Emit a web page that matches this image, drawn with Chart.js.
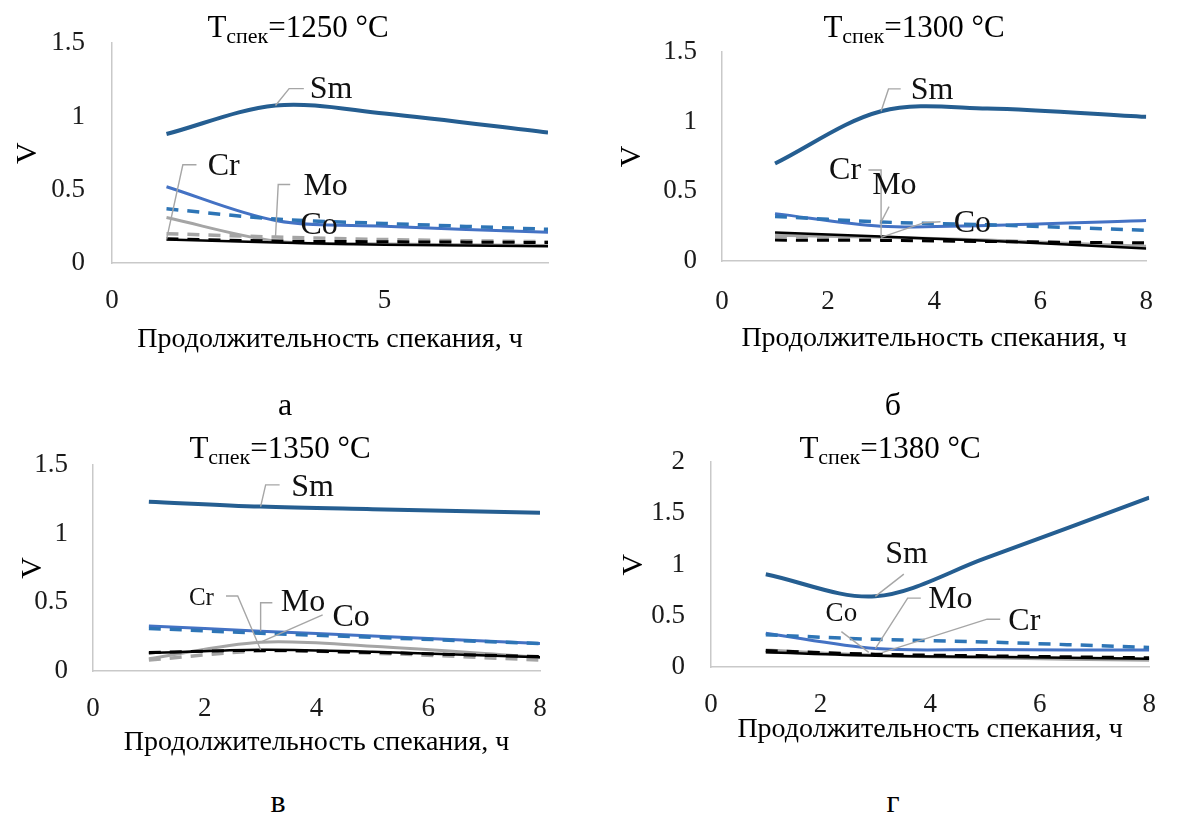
<!DOCTYPE html>
<html>
<head>
<meta charset="utf-8">
<script src="https://cdn.jsdelivr.net/npm/chart.js@4.4.1/dist/chart.umd.min.js"></script>
<style>
  body { margin: 0; width: 1178px; height: 816px; background: #fff; position: relative; overflow: hidden;
         font-family: "Liberation Serif", "Times New Roman", serif; color: #000; }
  canvas { position: absolute; }
  .ttl { position: absolute; font-size: 31px; line-height: 1; white-space: nowrap; transform: translateX(-50%); }
  .ttl .sub { font-size: 22px; vertical-align: -6px; }
  .letter { position: absolute; font-size: 32px; line-height: 1; transform: translateX(-50%); }
</style>
</head>
<body>
<canvas id="chart1250" width="590" height="360" style="left:0;top:0"></canvas>
<canvas id="chart1300" width="588" height="360" style="left:590px;top:0"></canvas>
<canvas id="chart1350" width="590" height="340" style="left:0;top:420px"></canvas>
<canvas id="chart1380" width="588" height="340" style="left:590px;top:420px"></canvas>

<div class="ttl" style="left:298px;top:11px">T<span class="sub">спек</span>=1250 °C</div>
<div class="ttl" style="left:914px;top:11px">T<span class="sub">спек</span>=1300 °C</div>
<div class="ttl" style="left:280px;top:432px">T<span class="sub">спек</span>=1350 °C</div>
<div class="ttl" style="left:890px;top:432px">T<span class="sub">спек</span>=1380 °C</div>

<div class="letter" style="left:285px;top:388px">а</div>
<div class="letter" style="left:893px;top:388px">б</div>
<div class="letter" style="left:278px;top:785px">в</div>
<div class="letter" style="left:893px;top:785px">г</div>

<script>
// sintering time, h
const hours = [1, 3, 5, 8];
const xTitle = "Продолжительность спекания, ч";
const yTitle = "V";

// T = 1250 °C
const sm1250 = [0.88, 1.075, 1.02, 0.89];
const blue1250 = [0.52, 0.29, 0.25, 0.21];
const blueDash1250 = [0.37, 0.30, 0.27, 0.23];
const grey1250 = [0.31, 0.15, 0.13, 0.12];
const greyDash1250 = [0.20, 0.177, 0.16, 0.145];
const black1250 = [0.16, 0.14, 0.125, 0.115];
const blackDash1250 = [0.165, 0.15, 0.145, 0.14];

// T = 1300 °C
const sm1300 = [0.70, 1.075, 1.095, 1.035];
const blue1300 = [0.34, 0.25, 0.255, 0.29];
const blueDash1300 = [0.32, 0.28, 0.26, 0.22];
const grey1300 = [0.185, 0.17, 0.15, 0.105];
const greyDash1300 = [0.175, 0.165, 0.145, 0.115];
const black1300 = [0.205, 0.175, 0.145, 0.09];
const blackDash1300 = [0.15, 0.148, 0.14, 0.13];

// T = 1350 °C
const sm1350 = [1.233, 1.197, 1.178, 1.153];
const blue1350 = [0.328, 0.29, 0.255, 0.20];
const blueDash1350 = [0.31, 0.275, 0.245, 0.20];
const grey1350 = [0.09, 0.21, 0.18, 0.10];
const greyDash1350 = [0.08, 0.145, 0.13, 0.08];
const black1350 = [0.13, 0.155, 0.14, 0.10];
const blackDash1350 = [0.135, 0.15, 0.135, 0.105];

// T = 1380 °C
const sm1380 = [0.906, 0.69, 1.06, 1.654];
const blue1380 = [0.33, 0.18, 0.17, 0.165];
const blueDash1380 = [0.315, 0.27, 0.245, 0.19];
const grey1380 = [0.165, 0.115, 0.09, 0.065];
const greyDash1380 = [0.15, 0.12, 0.10, 0.075];
const black1380 = [0.143, 0.11, 0.10, 0.08];
const blackDash1380 = [0.16, 0.125, 0.11, 0.09];

// line styles, first one is drawn on top
const seriesStyle = {
  sm: { color: "#255e91", width: 4, dash: [] },
  blueDash: { color: "#2e75b6", width: 3.5, dash: [12, 9] },
  blue: { color: "#4472c4", width: 3, dash: [] },
  blackDash: { color: "#000000", width: 3, dash: [12, 9] },
  black: { color: "#000000", width: 2.5, dash: [] },
  greyDash: { color: "#a5a5a5", width: 3.5, dash: [12, 9] },
  grey: { color: "#a5a5a5", width: 3, dash: [] },
};

// data labels with leader lines, in axis units
const labels1250 = [
  { text: "Sm", at: [4.02, 1.18], leader: [[3.52, 1.19], [3.25, 1.19], [3, 1.075]] },
  { text: "Cr", at: [2.05, 0.66], leader: [[1.55, 0.67], [1.3, 0.67], [1, 0.16]] },
  { text: "Mo", at: [3.92, 0.52], leader: [[3.27, 0.536], [3.05, 0.536], [3, 0.177]] },
  { text: "Co", at: [3.8, 0.256] },
];
const labels1300 = [
  { text: "Sm", at: [3.96, 1.22], leader: [[3.37, 1.235], [3.14, 1.235], [3, 1.075]] },
  { text: "Cr", at: [2.32, 0.646], leader: [[2.76, 0.653], [3.0, 0.653], [3.0, 0.175]] },
  { text: "Mo", at: [3.25, 0.538], leader: [[3.15, 0.39], [3, 0.28]] },
  { text: "Co", at: [4.72, 0.266], leader: [[4.12, 0.282], [3.81, 0.275], [3, 0.17]] },
];
const labels1350 = [
  { text: "Sm", at: [3.93, 1.336], leader: [[3.34, 1.355], [3.09, 1.355], [3, 1.197]] },
  { text: "Cr", at: [1.94, 0.528], size: 25, leader: [[2.38, 0.546], [2.59, 0.546], [3, 0.155]] },
  { text: "Mo", at: [3.76, 0.5], leader: [[3.21, 0.497], [3.0, 0.497], [3, 0.29]] },
  { text: "Co", at: [4.62, 0.386], leader: [[4.11, 0.408], [3, 0.21]] },
];
const labels1380 = [
  { text: "Sm", at: [3.57, 1.093], leader: [[3.52, 0.907], [3, 0.69]] },
  { text: "Co", at: [2.38, 0.519], size: 27, leader: [[2.38, 0.346], [2.88, 0.143]] },
  { text: "Mo", at: [4.37, 0.654], leader: [[3.83, 0.673], [3.59, 0.673], [3, 0.18]] },
  { text: "Cr", at: [5.72, 0.44], leader: [[5.28, 0.467], [5.04, 0.467], [3.12, 0.14]] },
];

const serif = '"Liberation Serif", "Times New Roman", serif';
Chart.defaults.font.family = serif;
Chart.defaults.color = "#1a1a1a";

const calloutPlugin = {
  id: "callouts",
  afterDatasetsDraw(chart, args, opts) {
    const { ctx } = chart;
    const xs = chart.scales.x;
    const ys = chart.scales.y;
    ctx.save();
    (opts.items || []).forEach((item) => {
      if (item.leader) {
        ctx.beginPath();
        item.leader.forEach(([lx, ly], i) => {
          const px = xs.getPixelForValue(lx);
          const py = ys.getPixelForValue(ly);
          if (i === 0) ctx.moveTo(px, py);
          else ctx.lineTo(px, py);
        });
        ctx.strokeStyle = "#a6a6a6";
        ctx.lineWidth = 1.4;
        ctx.stroke();
      }
      ctx.font = `${item.size || 32}px ${serif}`;
      ctx.fillStyle = "#111";
      ctx.textAlign = "center";
      ctx.textBaseline = "middle";
      ctx.fillText(item.text, xs.getPixelForValue(item.at[0]), ys.getPixelForValue(item.at[1]));
    });
    ctx.restore();
  },
};

function makeChart(id, p) {
  const order = ["sm", "blueDash", "blue", "blackDash", "black", "greyDash", "grey"];
  const datasets = order.map((key, i) => ({
    label: "Ряд " + (i + 1),
    data: hours.map((h, j) => ({ x: h, y: p.values[key][j] })),
    borderColor: seriesStyle[key].color,
    borderWidth: seriesStyle[key].width,
    borderDash: seriesStyle[key].dash,
    borderCapStyle: "butt",
    pointRadius: 0,
    fill: false,
    tension: 0.33,
  }));

  return new Chart(document.getElementById(id), {
    type: "line",
    data: { datasets },
    plugins: [calloutPlugin],
    options: {
      responsive: false,
      animation: false,
      layout: { padding: p.padding },
      plugins: {
        legend: { display: false },
        tooltip: { enabled: false },
        callouts: { items: p.labels },
      },
      scales: {
        x: {
          type: "linear",
          min: 0,
          max: 8,
          afterFit: (scale) => { scale.height = p.xHeight; },
          ticks: {
            stepSize: p.xStep,
            padding: p.xTickPad,
            font: { size: 27 },
            color: "#1a1a1a",
            callback: (v) => (v % p.xStep === 0 ? String(v) : null),
          },
          grid: { display: false, drawTicks: false },
          border: { display: true, color: "#c9c9c9", width: 1.5 },
          title: { display: true, text: xTitle, font: { size: 28 }, color: "#000", padding: { top: 0, bottom: p.xTitlePad } },
        },
        y: {
          min: 0,
          max: p.yMax,
          afterFit: (scale) => { scale.width = p.yWidth; },
          ticks: { stepSize: 0.5, padding: p.yTickPad, font: { size: 27 }, color: "#1a1a1a", callback: (v) => String(v) },
          grid: { display: false, drawTicks: false },
          border: { display: true, color: "#c9c9c9", width: 1.5 },
          title: { display: true, text: yTitle, font: { size: 30 }, color: "#000", padding: { top: p.yTitlePad, bottom: 0 } },
        },
      },
    },
  });
}

makeChart("chart1250", {
  values: { sm: sm1250, blue: blue1250, blueDash: blueDash1250, grey: grey1250, greyDash: greyDash1250, black: black1250, blackDash: blackDash1250 },
  labels: labels1250,
  padding: { left: 0, right: 42, top: 40, bottom: 0 },
  yWidth: 112, xHeight: 97, xStep: 5, yMax: 1.5,
  xTickPad: 22, yTickPad: 27, xTitlePad: 4, yTitlePad: 10,
});

makeChart("chart1300", {
  values: { sm: sm1300, blue: blue1300, blueDash: blueDash1300, grey: grey1300, greyDash: greyDash1300, black: black1300, blackDash: blackDash1300 },
  labels: labels1300,
  padding: { left: 0, right: 14, top: 52, bottom: 0 },
  yWidth: 132, xHeight: 99, xStep: 2, yMax: 1.5,
  xTickPad: 25, yTickPad: 25, xTitlePad: 5, yTitlePad: 24,
});

makeChart("chart1350", {
  values: { sm: sm1350, blue: blue1350, blueDash: blueDash1350, grey: grey1350, greyDash: greyDash1350, black: black1350, blackDash: blackDash1350 },
  labels: labels1350,
  padding: { left: 0, right: 50, top: 45, bottom: 0 },
  yWidth: 93, xHeight: 89, xStep: 2, yMax: 1.5,
  xTickPad: 22, yTickPad: 25, xTitlePad: 1, yTitlePad: 15,
});

makeChart("chart1380", {
  values: { sm: sm1380, blue: blue1380, blueDash: blueDash1380, grey: grey1380, greyDash: greyDash1380, black: black1380, blackDash: blackDash1380 },
  labels: labels1380,
  padding: { left: 0, right: 16, top: 33, bottom: 0 },
  yWidth: 121, xHeight: 93, xStep: 2, yMax: 2,
  xTickPad: 22, yTickPad: 26, xTitlePad: 14, yTitlePad: 26,
});
</script>
</body>
</html>
